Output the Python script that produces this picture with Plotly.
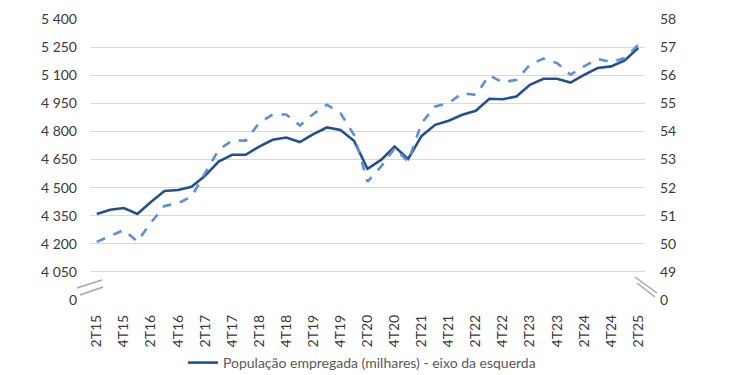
import plotly.graph_objects as go

quarters = []
for yr in range(15, 26):
    for q in range(1, 5):
        lab = f"{q}T{yr}"
        quarters.append(lab)
quarters = quarters[quarters.index("2T15"):quarters.index("2T25") + 1]

employed = [4359, 4382, 4391, 4359, 4423, 4482, 4487, 4504, 4563, 4639,
            4675, 4675, 4719, 4755, 4767, 4743, 4785, 4821, 4808, 4750,
            4600, 4648, 4719, 4653, 4776, 4835, 4857, 4889, 4910, 4974,
            4972, 4986, 5049, 5081, 5081, 5061, 5102, 5138, 5147, 5179, 5245]

rate = [50.07, 50.28, 50.49, 50.08, 50.75, 51.35, 51.44, 51.68, 52.53, 53.34,
        53.68, 53.67, 54.30, 54.60, 54.60, 54.21, 54.62, 54.95, 54.65, 53.88,
        52.21, 52.75, 53.40, 52.93, 54.30, 54.89, 55.01, 55.36, 55.30, 56.00,
        55.74, 55.84, 56.37, 56.59, 56.43, 56.02, 56.31, 56.58, 56.47, 56.61, 57.08]

left_ticks = [3900, 4050, 4200, 4350, 4500, 4650, 4800, 4950, 5100, 5250, 5400]
left_text = ["0", "4 050", "4 200", "4 350", "4 500", "4 650", "4 800", "4 950", "5 100", "5 250", "5 400"]
right_ticks = [48, 49, 50, 51, 52, 53, 54, 55, 56, 57, 58]
right_text = ["0", "49", "50", "51", "52", "53", "54", "55", "56", "57", "58"]
x_ticks = quarters[::2]

FONT = "Lato"
TXT = "#3a3a3a"

fig = go.Figure()
fig.add_trace(go.Scatter(
    x=quarters, y=employed, mode="lines", name="População empregada (milhares) - eixo da esquerda",
    line=dict(color="#24508f", width=2.6), yaxis="y"))
fig.add_trace(go.Scatter(
    x=quarters, y=rate, mode="lines", name="Taxa de emprego (%) - eixo da direita",
    line=dict(color="#5b8ede", width=2.6, dash="dash"), yaxis="y2", showlegend=False))

fig.update_layout(
    width=750, height=375,
    margin=dict(l=90, r=105, t=19, b=75),
    plot_bgcolor="white", paper_bgcolor="white",
    font=dict(family=FONT, color=TXT),
    xaxis=dict(type="category", range=[-0.5, len(quarters) - 0.5],
               tickmode="array", tickvals=x_ticks, ticktext=x_ticks,
               tickangle=-90, tickfont=dict(size=14, color=TXT),
               showgrid=False, showline=False, zeroline=False, ticklabelstandoff=11,
               automargin=False),
    yaxis=dict(range=[3900, 5400], tickmode="array", tickvals=left_ticks, ticktext=left_text,
               tickfont=dict(size=14, color=TXT), gridcolor="#d9d9d9", gridwidth=1,
               zeroline=False, showline=False, ticklabelstandoff=12, automargin=False),
    yaxis2=dict(range=[48, 58], overlaying="y", side="right", tickmode="array",
                tickvals=right_ticks, ticktext=right_text, tickfont=dict(size=14, color=TXT),
                showgrid=False, zeroline=False, showline=False, ticklabelstandoff=14,
                automargin=False),
    legend=dict(orientation="h", x=0.49, xanchor="center", yref="container", y=0.032,
                yanchor="middle", font=dict(size=14, color="#595959"),
                bgcolor="rgba(0,0,0,0)", borderwidth=0, tracegroupgap=0),
    showlegend=True,
)

brk = dict(color="#a6a6a6", width=1.5)
for x0, y0, x1, y1 in [(-0.0234, 0.0428, 0.0216, 0.0713), (-0.018, 0.0178, 0.0234, 0.0463),
                       (0.982, 0.0819, 1.0216, 0.0249), (0.9856, 0.0606, 1.018, 0.0107)]:
    fig.add_shape(type="line", xref="paper", yref="paper", x0=x0, y0=y0, x1=x1, y1=y1, line=brk)

fig.write_html("out.html", config={"displayModeBar": False},
               post_script="document.body.style.margin='0';document.body.style.overflow='hidden';")
